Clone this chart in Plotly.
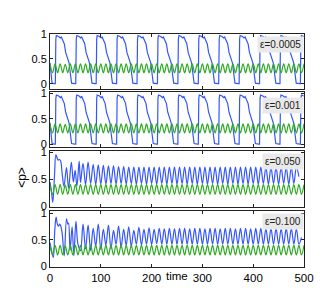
import plotly.graph_objects as go

# ---------------- data ----------------
eps_labels = ["ε=0.0005", "ε=0.001", "ε=0.050", "ε=0.100"]

# green series: extremes every 5 time units (same in all panels)
t_green = list(range(0, 501, 5))
p_green = [0.40, 0.22, 0.40, 0.22, 0.40, 0.22, 0.39, 0.22, 0.40, 0.22,
           0.40, 0.22, 0.40, 0.22, 0.40, 0.22, 0.40, 0.22, 0.40, 0.22,
           0.40, 0.22, 0.40, 0.22, 0.40, 0.22, 0.40, 0.22, 0.40, 0.22,
           0.40, 0.22, 0.40, 0.22, 0.40, 0.22, 0.40, 0.22, 0.40, 0.22,
           0.40, 0.22, 0.40, 0.22, 0.40, 0.22, 0.40, 0.22, 0.40, 0.22,
           0.40, 0.22, 0.40, 0.22, 0.40, 0.22, 0.40, 0.22, 0.40, 0.22,
           0.40, 0.22, 0.40, 0.22, 0.40, 0.22, 0.40, 0.22, 0.40, 0.22,
           0.40, 0.22, 0.40, 0.22, 0.40, 0.22, 0.40, 0.22, 0.40, 0.22,
           0.40, 0.22, 0.40, 0.22, 0.40, 0.22, 0.40, 0.22, 0.40, 0.22,
           0.40, 0.22, 0.40, 0.22, 0.40, 0.22, 0.40, 0.22, 0.40, 0.22,
           0.40]

# blue series, eps = 0.0005 and 0.001 (relaxation cycles)
t_blue_slow = [0, 2, 4, 8,
    10.5, 11.5, 12.5, 17.1, 20.3, 22.3, 24.9, 28.2, 30.8, 33.5, 35.5, 37.5, 39.5, 42.5, 49.0,
    50.7, 51.7, 52.7, 57.3, 60.5, 62.5, 65.1, 68.4, 71.0, 73.7, 75.7, 77.7, 79.7, 82.7, 89.2,
    90.9, 91.9, 92.9, 97.5, 100.7, 102.7, 105.3, 108.6, 111.2, 113.9, 115.9, 117.9, 119.9, 122.9, 129.4,
    131.1, 132.1, 133.1, 137.7, 140.9, 142.9, 145.5, 148.8, 151.4, 154.1, 156.1, 158.1, 160.1, 163.1, 169.6,
    171.3, 172.3, 173.3, 177.9, 181.1, 183.1, 185.7, 189.0, 191.6, 194.3, 196.3, 198.3, 200.3, 203.3, 209.8,
    211.5, 212.5, 213.5, 218.1, 221.3, 223.3, 225.9, 229.2, 231.8, 234.5, 236.5, 238.5, 240.5, 243.5, 250.0,
    251.7, 252.7, 253.7, 258.3, 261.5, 263.5, 266.1, 269.4, 272.0, 274.7, 276.7, 278.7, 280.7, 283.7, 290.2,
    291.9, 292.9, 293.9, 298.5, 301.7, 303.7, 306.3, 309.6, 312.2, 314.9, 316.9, 318.9, 320.9, 323.9, 330.4,
    332.1, 333.1, 334.1, 338.7, 341.9, 343.9, 346.5, 349.8, 352.4, 355.1, 357.1, 359.1, 361.1, 364.1, 370.6,
    372.3, 373.3, 374.3, 378.9, 382.1, 384.1, 386.7, 390.0, 392.6, 395.3, 397.3, 399.3, 401.3, 404.3, 410.8,
    412.5, 413.5, 414.5, 419.1, 422.3, 424.3, 426.9, 430.2, 432.8, 435.5, 437.5, 439.5, 441.5, 444.5, 451.0,
    452.7, 453.7, 454.7, 459.3, 462.5, 464.5, 467.1, 470.4, 473.0, 475.7, 477.7, 479.7, 481.7, 484.7, 491.2,
    492.9, 493.9, 494.9, 499.5]
p_blue_slow = [0.42, 0.20, 0.01, 0.0,
    0.0, 0.90, 0.97, 0.95, 0.92, 0.94, 0.88, 0.80, 0.63, 0.55, 0.47, 0.42, 0.25, 0.01, 0.0,
    0.0, 0.90, 0.97, 0.95, 0.92, 0.94, 0.88, 0.80, 0.63, 0.55, 0.47, 0.42, 0.25, 0.01, 0.0,
    0.0, 0.90, 0.97, 0.95, 0.92, 0.94, 0.88, 0.80, 0.63, 0.55, 0.47, 0.42, 0.25, 0.01, 0.0,
    0.0, 0.90, 0.97, 0.95, 0.92, 0.94, 0.88, 0.80, 0.63, 0.55, 0.47, 0.42, 0.25, 0.01, 0.0,
    0.0, 0.90, 0.97, 0.95, 0.92, 0.94, 0.88, 0.80, 0.63, 0.55, 0.47, 0.42, 0.25, 0.01, 0.0,
    0.0, 0.90, 0.97, 0.95, 0.92, 0.94, 0.88, 0.80, 0.63, 0.55, 0.47, 0.42, 0.25, 0.01, 0.0,
    0.0, 0.90, 0.97, 0.95, 0.92, 0.94, 0.88, 0.80, 0.63, 0.55, 0.47, 0.42, 0.25, 0.01, 0.0,
    0.0, 0.90, 0.97, 0.95, 0.92, 0.94, 0.88, 0.80, 0.63, 0.55, 0.47, 0.42, 0.25, 0.01, 0.0,
    0.0, 0.90, 0.97, 0.95, 0.92, 0.94, 0.88, 0.80, 0.63, 0.55, 0.47, 0.42, 0.25, 0.01, 0.0,
    0.0, 0.90, 0.97, 0.95, 0.92, 0.94, 0.88, 0.80, 0.63, 0.55, 0.47, 0.42, 0.25, 0.01, 0.0,
    0.0, 0.90, 0.97, 0.95, 0.92, 0.94, 0.88, 0.80, 0.63, 0.55, 0.47, 0.42, 0.25, 0.01, 0.0,
    0.0, 0.90, 0.97, 0.95, 0.92, 0.94, 0.88, 0.80, 0.63, 0.55, 0.47, 0.42, 0.25, 0.01, 0.0,
    0.0, 0.90, 0.97, 0.95]

# blue series, eps = 0.050
t_blue_3 = [0, 2.5, 5.5, 9, 11.5, 14, 16, 18.5, 21, 24, 27.5, 32.5, 36.5, 42, 46, 49.5, 53, 57.5] + list(range(60, 501, 5))
p_blue_3 = [0.45, 0.30, 0.07, 0.60, 0.96, 0.90, 0.86, 0.87, 0.84, 0.60, 0.37, 0.72, 0.33, 0.82, 0.45, 0.67, 0.37, 0.84,
    0.44, 0.80, 0.40, 0.82, 0.42, 0.78, 0.40, 0.77, 0.41, 0.76, 0.41, 0.75, 0.42, 0.75, 0.41, 0.74,
    0.42, 0.74, 0.41, 0.73, 0.42, 0.73, 0.41, 0.73, 0.42, 0.73, 0.41, 0.73, 0.42, 0.73, 0.41, 0.73,
    0.42, 0.73, 0.41, 0.73, 0.42, 0.73, 0.41, 0.73, 0.42, 0.73, 0.41, 0.73, 0.42, 0.73, 0.41, 0.73,
    0.42, 0.73, 0.41, 0.73, 0.42, 0.73, 0.41, 0.73, 0.42, 0.73, 0.41, 0.73, 0.42, 0.73, 0.41, 0.73,
    0.42, 0.73, 0.41, 0.73, 0.42, 0.73, 0.41, 0.73, 0.42, 0.73, 0.41, 0.73, 0.42, 0.73, 0.41, 0.73,
    0.42, 0.73, 0.41, 0.73, 0.42, 0.73, 0.55]

# blue series, eps = 0.100
t_blue_4 = [0, 3, 6.5, 9.5, 12, 14.5, 16.5, 19, 21, 24, 28, 32.5, 35, 36.5, 39.5, 43.5, 47, 51, 55] + list(range(60, 501, 5))
p_blue_4 = [0.45, 0.30, 0.17, 0.70, 0.93, 0.80, 0.76, 0.80, 0.77, 0.62, 0.20, 0.90, 0.80, 0.82, 0.30, 0.75, 0.20, 0.85, 0.42,
    0.30, 0.80, 0.33, 0.78, 0.30, 0.72, 0.38, 0.80, 0.32, 0.70, 0.40, 0.78, 0.33, 0.68, 0.42, 0.76,
    0.36, 0.70, 0.40, 0.75, 0.38, 0.68, 0.42, 0.74, 0.40, 0.70, 0.42, 0.73, 0.41, 0.70, 0.43, 0.72,
    0.42, 0.71, 0.42, 0.72, 0.42, 0.71, 0.42, 0.72, 0.42, 0.72, 0.42, 0.71, 0.42, 0.72, 0.42, 0.72,
    0.42, 0.71, 0.42, 0.72, 0.42, 0.72, 0.42, 0.71, 0.42, 0.72, 0.42, 0.72, 0.42, 0.71, 0.42, 0.72,
    0.42, 0.72, 0.42, 0.71, 0.42, 0.72, 0.42, 0.72, 0.42, 0.71, 0.42, 0.72, 0.42, 0.72, 0.42, 0.71,
    0.42, 0.72, 0.42, 0.72, 0.42, 0.71, 0.42, 0.55]

x_ticks = [0, 100, 200, 300, 400, 500]
y_ticks = [0, 0.5, 1]
y_tick_text = ["0", "0.5", "1"]

# ---------------- figure ----------------
BLUE = "#3355ff"
GREEN = "#2eaa22"
FRAME = "#222222"
W, H = 327, 288
L, R, T, B = 42, 31, 26, 19

# panel frames in pixels (top, bottom) and y ranges
panel_px = [(26, 83), (87, 144), (148, 206), (211, 269)]
y_ranges = [[-0.1, 1.0], [-0.06, 1.02], [-0.01, 1.03], [-0.01, 1.04]]
plot_h = H - T - B

def frac(y):
    return (H - B - y) / plot_h

blues = [(t_blue_slow, p_blue_slow, "linear"), (t_blue_slow, p_blue_slow, "linear"),
         (t_blue_3, p_blue_3, "spline"), (t_blue_4, p_blue_4, "spline")]

fig = go.Figure()
layout = dict(
    width=W, height=H,
    margin=dict(l=L, r=R, t=T, b=B),
    paper_bgcolor="white", plot_bgcolor="white",
    showlegend=False, hovermode=False,
    font=dict(family="Liberation Sans, Arial, sans-serif", size=11, color="black"),
)

annotations = []
for i in range(4):
    n = "" if i == 0 else str(i + 1)
    xa, ya = "x" + n, "y" + n
    tb, pb, shape = blues[i]
    fig.add_trace(go.Scatter(x=tb, y=pb, mode="lines", xaxis=xa, yaxis=ya,
                             line=dict(color=BLUE, width=1.2, shape=shape)))
    fig.add_trace(go.Scatter(x=t_green, y=p_green, mode="lines", xaxis=xa, yaxis=ya,
                             line=dict(color=GREEN, width=1.2, shape="spline")))
    top, bot = panel_px[i]
    layout["xaxis" + n] = dict(
        domain=[0, 1], range=[0, 500], anchor=ya,
        tickvals=x_ticks, showticklabels=(i == 3),
        ticks="inside", ticklen=3, tickcolor=FRAME,
        showline=True, linecolor=FRAME, linewidth=1, mirror="ticks",
        showgrid=False, zeroline=False,
        tickfont=dict(size=11.5),
    )
    layout["yaxis" + n] = dict(
        domain=[frac(bot), frac(top)], range=y_ranges[i], anchor=xa,
        tickvals=y_ticks, ticktext=y_tick_text,
        ticks="inside", ticklen=3, tickcolor=FRAME,
        showline=True, linecolor=FRAME, linewidth=1, mirror="ticks",
        showgrid=False, zeroline=False,
        tickfont=dict(size=11),
    )
    annotations.append(dict(
        text=eps_labels[i], xref=xa + " domain", yref=ya + " domain",
        x=1, y=1, xanchor="right", yanchor="top", yshift=-2 if i != 1 else -5,
        showarrow=False, bgcolor="#e9e9e9", borderpad=2,
        font=dict(size=10, color="#222222"),
    ))

annotations.append(dict(text="time", xref="paper", yref="paper",
                        x=0.5, y=frac(278), xanchor="center", yanchor="middle",
                        showarrow=False, font=dict(size=11.5)))
annotations.append(dict(text="<p>", xref="paper", yref="paper",
                        x=(14 - L) / (W - L - R), y=frac(176), xanchor="center", yanchor="middle",
                        textangle=-90, showarrow=False, font=dict(size=12)))
layout["annotations"] = annotations
fig.update_layout(**layout)
fig.write_html("out.html")
